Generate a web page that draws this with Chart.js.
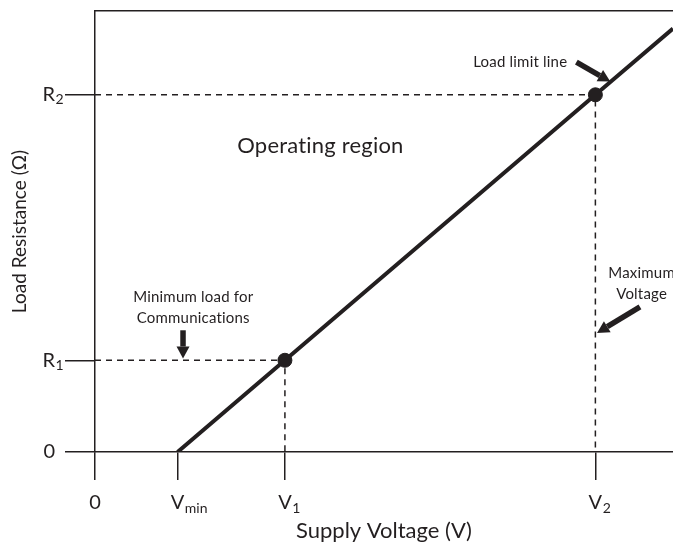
<!DOCTYPE html>
<html>
<head>
<meta charset="utf-8">
<script src="https://cdn.jsdelivr.net/npm/chart.js@4.4.1/dist/chart.umd.min.js"></script>
<style>
  html, body { margin: 0; padding: 0; background: #fff; }
</style>
</head>
<body>
<canvas id="loadChart" width="673" height="546"></canvas>
<script>
// ---- values (arbitrary units) ----
const V_MIN = 1, V1 = 2.3, V2 = 6.06;
const R1 = 2.08, R2 = 8.1;

const xRange = [0, 7];
const yRange = [0, 10];

// ticks: value + [main text, subscript]
const xTickValues = [0, V_MIN, V1, V2];
const xTickLabels = [['0', ''], ['V', 'min'], ['V', '1'], ['V', '2']];
const yTickValues = [0, R1, R2];
const yTickLabels = [['0', ''], ['R', '1'], ['R', '2']];

// load limit line
const limitX = [V_MIN, V1, V2, 7];
const limitY = [0, R1, R2, 9.6];
const limitDots = [0, 7, 7, 0];

// dashed guides
const guide1X = [0, V1, V1];
const guide1Y = [R1, R1, 0];
const guide2X = [0, V2, V2];
const guide2Y = [R2, R2, 0];

// annotations (data coords)
const noteText = [['Operating region'], ['Minimum load for', 'Communications'], ['Load limit line'], ['Maximum', 'Voltage']];
const noteX = [2.73, 1.19, 5.15, 6.62];
const noteY = [6.94, 3.52, 8.84, 4.06];
const noteSize = [22, 15, 15, 15];

const arrowFrom = [[1.066, 2.76], [5.83, 8.84], [6.6, 3.29]];
const arrowTo = [[1.066, 2.12], [6.24, 8.4], [6.08, 2.70]];

const ink = '#231f20';
const family = 'Lato, "Open Sans", sans-serif';

const pts = (xs, ys) => xs.map((v, i) => ({ x: v, y: ys[i] }));

function drawSub(ctx, label, px, py, align) {
    const main = label[0], sub = label[1];
    ctx.font = '20px ' + family;
    ctx.textBaseline = 'middle';
    ctx.textAlign = 'left';
    const w = ctx.measureText(main).width;
    const left = align === 'center' ? px - w / 2 : px - w;
    ctx.fillText(main, left, py);
    if (sub) {
        ctx.font = '14px ' + family;
        ctx.fillText(sub, left + w + 0.5, py + 5);
    }
}

function drawArrow(ctx, x1, y1, x2, y2) {
    const ang = Math.atan2(y2 - y1, x2 - x1);
    const head = 12, half = 6.5;
    const bx = x2 - Math.cos(ang) * head, by = y2 - Math.sin(ang) * head;
    ctx.lineWidth = 5.5;
    ctx.lineCap = 'butt';
    ctx.beginPath();
    ctx.moveTo(x1, y1);
    ctx.lineTo(bx, by);
    ctx.stroke();
    ctx.beginPath();
    ctx.moveTo(x2, y2);
    ctx.lineTo(bx + Math.sin(ang) * half, by - Math.cos(ang) * half);
    ctx.lineTo(bx - Math.sin(ang) * half, by + Math.cos(ang) * half);
    ctx.closePath();
    ctx.fill();
}

const decorPlugin = {
    id: 'decor',
    afterDraw(chart) {
        const { ctx, scales: { x, y } } = chart;
        ctx.save();
        ctx.fillStyle = ink;
        ctx.strokeStyle = ink;

        // tick labels with subscripts
        xTickValues.forEach((v, i) => drawSub(ctx, xTickLabels[i], x.getPixelForValue(v), x.top + 51, 'center'));
        yTickValues.forEach((v, i) => drawSub(ctx, yTickLabels[i], y.right - 40, y.getPixelForValue(v), 'right'));

        // notes (letter spacing keeps the "ti" ligature off)
        ctx.letterSpacing = '0.2px';
        ctx.textAlign = 'center';
        ctx.textBaseline = 'middle';
        noteText.forEach((lines, i) => {
            ctx.font = noteSize[i] + 'px ' + family;
            const cx = x.getPixelForValue(noteX[i]);
            const cy = y.getPixelForValue(noteY[i]);
            lines.forEach((t, j) => ctx.fillText(t, cx, cy + j * noteSize[i] * 1.4));
        });
        ctx.letterSpacing = '0px';

        // arrows
        arrowFrom.forEach((f, i) => {
            const t = arrowTo[i];
            drawArrow(ctx, x.getPixelForValue(f[0]), y.getPixelForValue(f[1]),
                x.getPixelForValue(t[0]), y.getPixelForValue(t[1]));
        });
        ctx.restore();
    }
};

const axisLine = { color: ink, width: 1.5 };

new Chart(document.getElementById('loadChart'), {
    type: 'line',
    data: {
        datasets: [
            {
                data: pts(limitX, limitY),
                borderColor: ink,
                borderWidth: 4,
                pointRadius: limitDots,
                pointBackgroundColor: ink,
                pointBorderColor: ink,
                pointBorderWidth: 1,
                tension: 0
            },
            {
                data: pts(guide1X, guide1Y),
                borderColor: ink,
                borderWidth: 1.5,
                borderDash: [6, 5],
                pointRadius: 0
            },
            {
                data: pts(guide2X, guide2Y),
                borderColor: ink,
                borderWidth: 1.5,
                borderDash: [6, 5],
                pointRadius: 0
            }
        ]
    },
    options: {
        responsive: false,
        animation: false,
        devicePixelRatio: 1,
        layout: { padding: { top: 11, right: 0, bottom: 0, left: 0 } },
        plugins: {
            legend: { display: false },
            tooltip: { enabled: false }
        },
        scales: {
            x: {
                type: 'linear',
                position: 'bottom',
                min: xRange[0],
                max: xRange[1],
                afterBuildTicks: s => { s.ticks = xTickValues.map(v => ({ value: v })); },
                afterFit: s => { s.height = 94; },
                grid: { drawOnChartArea: false, drawTicks: true, tickLength: 28, color: ink, lineWidth: 1.5 },
                border: axisLine,
                ticks: { display: false },
                title: {
                    display: true,
                    text: 'Supply Voltage (V)',
                    color: ink,
                    font: { family: family, size: 22 },
                    padding: { top: 0, bottom: 2 }
                }
            },
            x2: {
                type: 'linear',
                axis: 'x',
                position: 'top',
                min: xRange[0],
                max: xRange[1],
                afterFit: s => { s.height = 0; },
                grid: { display: false },
                border: axisLine,
                ticks: { display: false }
            },
            y: {
                type: 'linear',
                min: yRange[0],
                max: yRange[1],
                afterBuildTicks: s => { s.ticks = yTickValues.map(v => ({ value: v })); },
                afterFit: s => { s.width = 95; },
                grid: { drawOnChartArea: false, drawTicks: true, tickLength: 30, color: ink, lineWidth: 1.5 },
                border: axisLine,
                ticks: { display: false },
                title: {
                    display: true,
                    text: 'Load Resistance (Ω)',
                    color: ink,
                    font: { family: family, size: 19 },
                    padding: { top: 8, bottom: 0 }
                }
            }
        }
    },
    plugins: [decorPlugin]
});
</script>
</body>
</html>
